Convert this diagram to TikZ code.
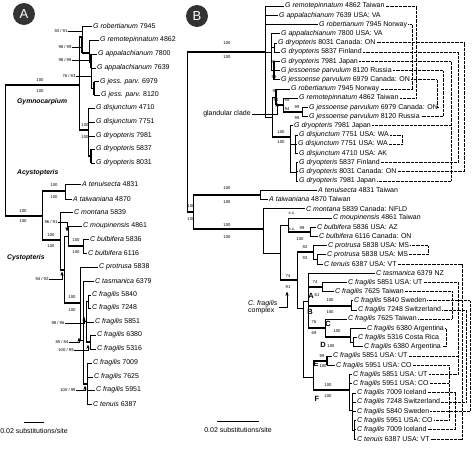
\documentclass[tikz,border=0pt]{standalone}
\usepackage{fontspec}
\setmainfont{Liberation Sans}
\usetikzlibrary{arrows}

\tikzset{
  leaf/.style={anchor=west, inner sep=1pt, font=\fontsize{7}{7}\selectfont},
  sup/.style={inner sep=0pt, font=\fontsize{4.2}{4.5}\selectfont},
  br/.style={line width=0.6pt},
  thk/.style={line width=2.2pt},
  thv/.style={line width=1.6pt},
  dotc/.style={line width=0.7pt, dash pattern=on 0.6pt off 0.7pt},
  lead/.style={line width=0.4pt},
  clade/.style={anchor=west, inner sep=0pt, font=\fontsize{6.8}{7}\selectfont\bfseries\itshape},
  panel/.style={circle, fill=black!80, text=white, minimum size=22pt, inner sep=0pt, font=\fontsize{13}{13}\selectfont},
  lett/.style={inner sep=0pt, font=\fontsize{7.5}{8}\selectfont\bfseries}
}

\begin{document}
\begin{tikzpicture}[x=1pt, y=-1pt, >=stealth']
\useasboundingbox (0,0) rectangle (474,453);

\node [panel] (pA) at (24,14) {A};
\node [panel] (pB) at (197,16) {B};

% panel A
\foreach \n/\x/\y/\sp/\num in {
  1/92/26/G robertianum/7945, 2/99/40/G remotepinnatum/4862,
  3/97/54/G appalachianum/7800, 4/96/68/G appalachianum/7639,
  5/99/81.5/G jess. parv./6979, 6/100/95/G jess. parv./8120,
  7/95/108/G disjunctum/4710, 8/95/122/G disjunctum/7751,
  9/95/136/G dryopteris/7981, 10/95/149/G dryopteris/5837,
  11/95/163/G dryopteris/8031, 12/81/184/A tenuisecta/4831,
  13/72/199/A taiwaniana/4870, 14/73/212/C montana/5839,
  15/82/226/C moupinensis/4861, 16/89/239/C bulbifera/5836,
  17/87/253/C bulbifera/6116, 18/98/267/C protrusa/5838,
  19/94/281/C tasmanica/6379, 20/91/295/C fragilis/5840,
  21/91/308/C fragilis/7248, 22/94/322/C fragilis/5851,
  23/96/335/C fragilis/6380, 24/96/349/C fragilis/5316,
  25/92/363/C fragilis/7009, 26/93/377/C fragilis/7625,
  27/95/390/C fragilis/5951, 28/92/404/C tenuis/6387}
  \node [leaf] (a\n) at (\x,\y) {\textit{\sp} \num};

\coordinate (aR) at (5,150);
\coordinate (aG1) at (79,85);
\coordinate (aG2) at (82,37);
\coordinate (aG3) at (89,53);
\coordinate (aG4) at (91,62);
\coordinate (aG5) at (94,88);
\coordinate (aDJ) at (88,130);
\coordinate (aDJ2) at (91,156);
\coordinate (acA) at (42,216);
\coordinate (aAc) at (65,191);
\coordinate (aC0) at (60,240);
\coordinate (aC1) at (64,270);
\coordinate (aM) at (68,236);
\coordinate (aBu) at (83,246);
\coordinate (aP) at (80,303);
\coordinate (aQ) at (83,340);
\coordinate (aS) at (86,321);
\coordinate (aT) at (88,301);
\coordinate (aU) at (90,342);
\coordinate (aR2) at (87,384);

\foreach \p/\c in {aG2/a1, aG3/a2, aG4/a3, aG4/a4, aG5/a5, aG5/a6, aDJ/a7, aDJ/a8,
  aDJ/a9, aDJ2/a10, aDJ2/a11, aAc/a12, aAc/a13, aC0/a14, aM/a15, aBu/a16, aBu/a17,
  aP/a18, aQ/a19, aT/a20, aT/a21, aS/a22, aU/a23, aU/a24, aR2/a25, aR2/a26,
  aR2/a27, aR2/a28}
  \draw [br] (\p) |- (\c.west);
\foreach \p/\c in {aG4/aG5, aC1/aM, aP/aQ, aQ/aS, aS/aT}
  \draw [br] (\p) |- (\c);
\foreach \p/\c in {aR/aG1, aR/acA, aG1/aG2, aG1/aDJ, aG2/aG3, aG3/aG4, aDJ/aDJ2,
  acA/aAc, acA/aC0, aC0/aC1, aC1/aP, aM/aBu, aS/aU, aQ/aR2} {
  \draw [br] (\p) -- (\p |- \c);
  \draw [thk] (\p |- \c) -- (\c);
}
\draw [thv] (aG2) -- (aG2 |- aG3);
\draw [thv] (aG4 |- a3.west) -- (aG4 |- a4.west);
\draw [thv] (aG5 |- a5.west) -- (aG5 |- a6.west);
\draw [thv] (aDJ2 |- a10.west) -- (aDJ2 |- a11.west);

\node [clade] (gym) at (17,102) {Gymnocarpium};
\node [clade] (acy) at (17,173) {Acystopteris};
\node [clade] (cys) at (7,258) {Cystopteris};

\foreach \x/\y [count=\i] in {40/80, 40/91, 23/211, 23/221, 54/185, 54/197, 51/235,
  51/246, 76/240, 76/252, 85/125, 85/137, 72/297, 72/310}
  \node [sup] (as\i) at (\x,\y) {100};

\node [sup] (s1) at (61,31) {83 / 91};
\node [sup] (s2) at (65,47) {98 / 99};
\node [sup] (s3) at (65,60) {98 / 98};
\node [sup] (s4) at (69,76) {76 / 83};
\node [sup] (s5) at (51,222) {96 / 91};
\node [sup] (s6) at (42,279) {94 / 92};
\node [sup] (s7) at (58,323) {98 / 96};
\node [sup] (s8) at (62,342) {85 / 84};
\node [sup] (s9) at (66,350) {100 / 99};
\node [sup] (s10) at (68,390) {100 / 99};
\coordinate (tA5) at (67,231);
\coordinate (tA6) at (62,272);
\coordinate (tA7) at (84,317);
\coordinate (tA8) at (79,338);
\coordinate (tA9) at (88,345);
\coordinate (tA10) at (85,386);

\draw [lead] (s1.east) -- (s1.east -| aG2);
\draw [lead] (s2.east) -- (s2.east -| aG2);
\draw [lead] (s3.east) -- (s3.east -| aG3);
\draw [lead] (s4.east) -- (s4.east -| aG4);
\draw [lead, ->] (s5.east) -| (tA5);
\draw [lead, ->] (s6.east) -| (tA6);
\draw [lead, ->] (s7.east) -| (tA7);
\draw [lead, ->] (s8.east) -| (tA8);
\draw [lead, ->] (s9.east) -| (tA9);
\draw [lead, ->] (s10.east) -| (tA10);

\coordinate (sa1) at (24,422);
\coordinate (sa2) at (44,422);
\draw [line width=0.8pt] (sa1) -- (sa2);
\node [leaf, anchor=center] (sca) at (34,431) {0.02 substitutions/site};

% panel B
\foreach \n/\x/\sp/\rest in {
  1/284/G remotepinnatum/4862 Taiwan, 2/278/G appalachianum/7639 USA: VA,
  3/318/G robertianum/7945 Norway, 4/280/G appalachianum/7800 USA: VA,
  5/277/G dryopteris/8031 Canada: ON, 6/280/G dryopteris/5837 Finland,
  7/280/G dryopteris/7981 Japan, 8/280/G jessoense parvulum/8120 Russia,
  9/280/G jessoense parvulum/6979 Canada: ON, 10/290/G robertianum/7945 Norway,
  11/298/G remotepinnatum/4862 Taiwan, 12/308/G jessoense parvulum/6979 Canada: ON,
  13/308/G jessoense parvulum/8120 Russia, 14/293/G dryopteris/7981 Japan,
  15/298/G disjunctum/7751 USA: WA, 16/297/G disjunctum/7751 USA: WA,
  17/298/G disjunctum/4710 USA: AK, 18/298/G dryopteris/5837 Finland,
  19/298/G dryopteris/8031 Canada: ON, 20/298/G dryopteris/7981 Japan,
  21/317/A tenuisecta/4831 Taiwan, 22/268/A taiwaniana/4870 Taiwan,
  23/305/C montana/5839 Canada: NFLD, 24/332/C moupinensis/4861 Taiwan,
  25/316/C bulbifera/5836 USA: AZ, 26/318/C bulbifera/6116 Canada: ON,
  27/327/C protrusa/5838 USA: MS, 28/326/C protrusa/5838 USA: MS,
  29/323/C tenuis/6387 USA: VT, 30/375/C tasmanica/6379 NZ,
  31/347/C fragilis/5851 USA: UT, 32/334/C fragilis/7625 Taiwan,
  33/353/C fragilis/5840 Sweden, 34/357/C fragilis/7248 Switzerland,
  35/347/C fragilis/7625 Taiwan, 36/366/C fragilis/6380 Argentina,
  37/357/C fragilis/5316 Costa Rica, 38/363/C fragilis/6380 Argentina,
  39/332/C fragilis/5851 USA: UT, 40/335/C fragilis/5951 USA: CO,
  41/352/C fragilis/5851 USA: UT, 42/352/C fragilis/5951 USA: CO,
  43/356/C fragilis/7009 Iceland, 44/356/C fragilis/7248 Switzerland,
  45/356/C fragilis/5840 Sweden, 46/356/C fragilis/5951 USA: CO,
  47/356/C fragilis/7009 Iceland, 48/356/C tenuis/6387 USA: VT}
  \node [leaf] (b\n) at (\x,{6+9.21*(\n-1)}) {\textit{\sp} \rest};

\coordinate (bR) at (187,132);
\coordinate (bG0) at (265,52);
\coordinate (bGc) at (271,52);
\coordinate (bGd) at (274,47.4);
\coordinate (bGe) at (274,70.5);
\coordinate (bGD) at (272,117);
\coordinate (bGL) at (276,97);
\coordinate (bGL2) at (283,105);
\coordinate (bGL3) at (302,112);
\coordinate (bDJ) at (290,137);
\coordinate (bDJa) at (295,144.2);
\coordinate (bDJb) at (296,172);
\coordinate (bAC) at (193,212);
\coordinate (bAcy) at (260,195);
\coordinate (bCy) at (263,229);
\coordinate (bN2) at (280,253);
\coordinate (bM) at (288,225);
\coordinate (bBu) at (310,232);
\coordinate (bFC) at (297,280);
\coordinate (bP) at (313,252);
\coordinate (bPs) at (317,259.3);
\coordinate (bK) at (303,308);
\coordinate (bKU) at (308,301);
\coordinate (bA) at (322,287);
\coordinate (bB) at (351,306);
\coordinate (bC) at (325,328);
\coordinate (bD) at (350,337);
\coordinate (bDs) at (353,342);
\coordinate (bKL) at (313,377);
\coordinate (bE) at (327,361);
\coordinate (bF) at (349,390);
\coordinate (bF2) at (352,410);
\coordinate (bF3) at (354,430);

\foreach \p/\c in {bG0/b1, bG0/b2, bG0/b3, bGc/b4, bGd/b5, bGd/b6, bGe/b7, bGe/b8,
  bGe/b9, bGL/b10, bGL2/b11, bGL3/b12, bGL3/b13, bDJ/b14, bDJa/b15, bDJa/b16,
  bDJa/b17, bDJb/b18, bDJb/b19, bDJb/b20, bAcy/b21, bAcy/b22, bCy/b23, bM/b24,
  bBu/b25, bBu/b26, bP/b27, bPs/b28, bPs/b29, bKU/b30, bA/b31, bA/b32, bB/b33,
  bB/b34, bC/b35, bD/b36, bDs/b37, bDs/b38, bE/b39, bE/b40, bF/b41, bF/b42,
  bF2/b43, bF2/b44, bF2/b45, bF3/b46, bF3/b47, bF3/b48}
  \draw [br] (\p) |- (\c.west);
\foreach \p/\c in {bG0/bGc, bGc/bGd, bGc/bGe, bG0/bGD, bGD/bGL, bDJ/bDJa, bDJ/bDJb,
  bCy/bN2, bN2/bM, bP/bPs, bFC/bK, bK/bKU, bK/bKL, bD/bDs, bF/bF2, bF2/bF3}
  \draw [br] (\p) |- (\c);
\foreach \p/\c in {bR/bG0, bR/bAC, bGL/bGL2, bGL2/bGL3, bGD/bDJ, bAC/bAcy, bAC/bCy,
  bM/bBu, bN2/bFC, bFC/bP, bKU/bA, bKU/bB, bKU/bC, bC/bD, bKL/bE, bKL/bF} {
  \draw [br] (\p) -- (\p |- \c);
  \draw [thk] (\p |- \c) -- (\c);
}
\draw [thv] (bGe |- b7.west) -- (bGe |- b9.west);
\draw [thv] (bGL |- b10.west) -- (bGL |- bGL2);
\draw [thv] (bE |- b39.west) -- (bE |- b40.west);

\coordinate (kDi) at (402,0);
\coordinate (kRo) at (412,0);
\coordinate (kRe) at (416,0);
\coordinate (kJ6) at (437,0);
\coordinate (kJ8) at (443,0);
\coordinate (kD7) at (451,0);
\coordinate (kD5) at (458,0);
\coordinate (kD8) at (464,0);
\coordinate (kPr) at (428,0);
\coordinate (kF63) at (446,0);
\coordinate (kF59) at (449,0);
\coordinate (kF76) at (452,0);
\coordinate (kF70) at (455,0);
\coordinate (kF51) at (458,0);
\coordinate (kTe) at (462,0);
\coordinate (kF72) at (466,0);
\coordinate (kF58) at (470,0);

\foreach \u/\v/\k in {b1/b11/kRe, b3/b10/kRo, b9/b12/kJ6, b8/b13/kJ8, b7/b20/kD7,
  b6/b18/kD5, b5/b19/kD8, b15/b16/kDi, b27/b28/kPr, b29/b48/kTe, b31/b41/kF51,
  b32/b35/kF76, b33/b45/kF58, b34/b44/kF72, b36/b38/kF63, b40/b46/kF59, b43/b47/kF70}
  \draw [dotc] (\u.east) -- (\u.east -| \k) -- (\v.east -| \k) -- (\v.east);
\foreach \w/\k in {b14/kD7, b39/kF51, b42/kF59}
  \draw [dotc] (\w.east) -- (\w.east -| \k);

\foreach \x/\y/\t [count=\i] in {227/43/100, 227/57/100, 191/206/100, 191/219/100,
  227/188/100, 227/202/100, 227/225/100, 227/237/100, 281/132/100, 281/142/100,
  273/62/97, 274/77/99, 275/91/90, 276/100/94, 287/100/95, 287/109/94, 297/107/99,
  297/118/99, 292/213/s.c., 292/229/s.c., 302/228/99, 300/239/100, 305/247/92,
  305/258/93, 288/276/74, 288/287/91, 315/282/74, 317/295/61, 330/300/100,
  330/312/100, 314/322/76, 314/333/69, 337/331/100, 331/346/100, 322/356/99,
  323/366/100, 328/385/100, 328/396/100}
  \node [sup] (bs\i) at (\x,\y) {\t};

\node [lett] (lA) at (311,296) {A};
\node [lett] (lB) at (310,312) {B};
\node [lett] (lC) at (328,324) {C};
\node [lett] (lD) at (323,345) {D};
\node [lett] (lE) at (316,364) {E};
\node [lett] (lF) at (317,399) {F};

\node [leaf, anchor=center] (gc) at (227,114) {glandular clade};
\coordinate (tG) at (277,103);
\draw [lead, ->] (gc.east) -| (tG);

\node [leaf, align=left] (cfc) at (247,307) {\textit{C. fragilis}\\complex};
\coordinate (tC) at (287,292);
\draw [lead, ->] (cfc.east) -| (tC);

\coordinate (sb1) at (217,421);
\coordinate (sb2) at (259,421);
\draw [line width=0.8pt] (sb1) -- (sb2);
\node [leaf, anchor=center] (scb) at (238,430) {0.02 substitutions/site};

\end{tikzpicture}
\end{document}
